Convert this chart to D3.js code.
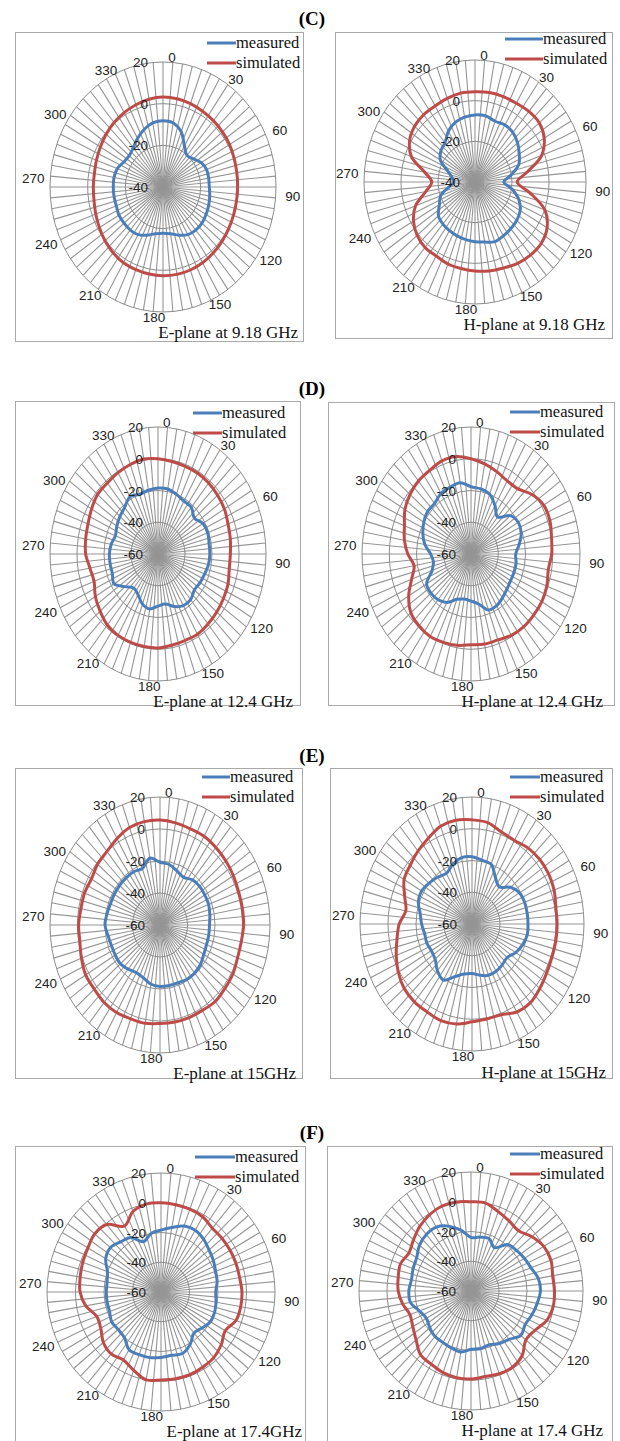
<!DOCTYPE html>
<html>
<head>
<meta charset="utf-8">
<script src="https://cdn.jsdelivr.net/npm/d3@7"></script>
<style>
  body { margin: 0; background: #fff; }
  svg text { font-family: "Liberation Sans", Arial, sans-serif; }
  .serif { font-family: "Liberation Serif", "Times New Roman", serif; }
</style>
</head>
<body>
<svg id="chart" width="620" height="1441"></svg>
<script>
// sample angles (deg, clockwise from top)
var angles = [0,10,20,30,40,50,60,70,80,90,100,110,120,130,140,150,160,170,
              180,190,200,210,220,230,240,250,260,270,280,290,300,310,320,330,340,350];
var angleLabels = [0,30,60,90,120,150,180,210,240,270,300,330];
var ticksC = [20, 0, -20, -40];
var ticksDEF = [20, 0, -20, -40, -60];

var series = ["measured", "simulated"];
var colors = ["#4a7ebb", "#be4b48"];

// (C) 9.18 GHz
var measE918 = [-8.2,-8.8,-11.8,-17.2,-20.2,-19,-16.6,-15.4,-15.4,-15.4,-14.8,-14.2,-13.6,-13,-13,-13.6,-15.4,-17.2,
                -17.8,-17.2,-15.4,-13.6,-13,-13,-13,-13.6,-13.6,-13.6,-13.6,-14.2,-16,-16.6,-15.4,-13,-10.6,-8.8];
var simE918  = [3.2,3,2.6,2,1.6,1.2,0.8,0.2,-0.2,-0.4,-0.4,-0.2,0.2,0.8,1.4,2,2.4,2.6,
                2.6,2.4,2.2,2,1.2,0.2,-1,-2,-2.8,-3,-3,-2.4,-1.6,-0.6,0.4,1.2,2,2.8];
var measH918 = [-7,-7,-8.2,-7.6,-8.2,-10,-12.4,-14.8,-20.2,-24.4,-19.6,-14.8,-11.8,-10.6,-10,-9.4,-8.8,-10,
                -10.6,-11.2,-11.8,-12.4,-13,-14.2,-17.8,-20.2,-25.6,-28.6,-27.4,-24.4,-18.4,-16,-14.8,-11.2,-8.8,-7.6];
var simH918  = [4.4,4.7,4.7,4.7,5.3,5.3,3.2,-1.6,-11.2,-17.2,-10,0.2,5,6.8,6.8,6.2,5,4.4,
                3.8,3.2,2.9,2,2,0.8,-1.6,-5.8,-13,-16.6,-12.4,-3.4,0.8,2.6,3.2,3.2,3.8,4.4];
// (D) 12.4 GHz
var measE124 = [-18.4,-18.4,-20,-21.6,-21.6,-24.8,-21.6,-20.8,-21.6,-21.6,-22,-23.2,-24,-24.8,-22.4,-22.4,-24.8,-28,
                -27.2,-24.8,-26.4,-30.4,-32,-28,-22.4,-24,-24,-24,-24.8,-26.4,-24.8,-23.2,-21.6,-18.4,-20,-19.2];
var simE124  = [0,-0.8,-1.2,-1.2,-1.6,-2.4,-3.2,-4.8,-5.6,-6.4,-6.4,-4.8,-4,-3.2,-2.4,-1.6,-2,-1.6,
                -0.8,-0.8,-0.8,-0.8,-1.6,-4,-6.4,-9.6,-8.8,-6.4,-5.6,-4.8,-3.2,-1.6,-1.6,-0.8,0,0.8];
var measH124 = [-17.6,-18.4,-20,-24.8,-29.6,-22.4,-20,-20.8,-24,-27.2,-26.4,-26.4,-26.4,-25.6,-24,-22.4,-22.4,-28,
                -30.4,-31.2,-29.6,-24.8,-22.4,-21.6,-22.4,-29.6,-32,-30.4,-25.6,-22.4,-20,-18.4,-18.4,-16,-15.2,-14.4];
var simH124  = [0,-2.4,-4.8,-6.8,-6.4,-1.6,1.6,1.6,0,-0.8,-2.4,-0.8,0,0,0,-0.8,-2.4,-2.4,
                -2.8,-1.6,-0.8,0,-0.8,-2.4,-7.2,-13.6,-17.6,-13.6,-10.4,-8,-4,-1.6,0,0.8,2.4,2.4];
// (E) 15 GHz
var measE15 = [-20.8,-21.6,-24,-25.6,-23.2,-22.4,-22.4,-22.4,-23.2,-24,-24,-24,-23.2,-21.6,-20.8,-20.8,-21.6,-21.6,
               -21.6,-22.4,-24.8,-25.6,-24,-22.4,-22.4,-22.4,-21.6,-20,-20.8,-21.6,-21.6,-21.6,-21.6,-21.6,-22.4,-17.6];
var simE15  = [5.6,4.8,4,4,3.2,2.4,1.6,0.8,0.8,0.8,0,0,1.2,1.6,2.4,1.6,1.6,1.6,
               1.6,2.4,2.4,3.2,3.2,2.4,2.4,0.8,-0.8,-0.8,-1.6,-1.6,-2.4,-0.8,0,2.4,4.8,5.6];
var measH15 = [-17.6,-19.2,-20,-26.4,-29.6,-24,-20.8,-20,-20,-20,-20,-21.6,-24,-27.2,-26.4,-25.6,-25.6,-27.2,
               -28.8,-28,-24.8,-19.2,-21.6,-25.6,-26.4,-25.6,-25.6,-24,-22.4,-19.2,-18.4,-20,-21.6,-23.2,-20,-17.6];
var simH15  = [5.6,4.8,1.6,0.8,2.4,3.2,3.2,2.4,0.8,0.8,0.8,0.8,1.6,3.2,4.8,4,0.8,0.8,
               1.6,4,4.8,4,4,3.2,0.8,-2.4,-5.6,-8,-12,-8.8,-4,-2.4,0,2.4,5.6,6.4];
// (F) 17.4 GHz
var measE174 = [-18.4,-16,-12.8,-12,-13.6,-16,-17.6,-19.2,-20,-21.6,-20.8,-20,-20,-22.4,-24,-19.2,-16,-16.8,
                -16,-15.2,-15.2,-15.2,-20,-20.8,-20,-21.6,-21.6,-21.6,-21.6,-20,-15.2,-13.6,-16,-17.6,-24,-20];
var simE174  = [0,-0.4,-0.8,-1.6,-4,-4,-4,-4,-4,-3.2,-3.2,-4,-8,-4.8,-2.4,-1.6,-0.8,-0.8,
                -0.8,0,-4,-7.2,-5.6,-7.2,-11.2,-12,-6.4,-3.2,-2.4,-1.6,-0.8,0.8,-0.8,-8.8,-2.4,0];
var measH174 = [-24,-23.2,-22.4,-26.4,-19.2,-17.6,-16,-14.4,-11.2,-10.4,-12,-13.6,-15.2,-13.6,-17.6,-19.2,-21.6,-20.8,
                -20.8,-18.4,-19.2,-20,-20,-21.6,-23.2,-20.8,-16,-15.6,-16.8,-16,-15.2,-12,-10.4,-10.4,-13.6,-18.4];
var simH174  = [0,0,-3.2,-5.6,-7.2,-3.2,0,0.8,-0.8,-0.4,-0.4,-2.4,-7.2,-8.8,-3.2,-0.8,-0.8,-1.6,
                -0.8,-0.8,-1.6,-3.2,-4,-8.8,-12,-13.6,-10.4,-8,-7.2,-6.4,-8.8,-6.4,-3.2,-0.8,0.8,0.8];

var titles = ["(C)", "(D)", "(E)", "(F)"];
var titleY = [25, 395, 762, 1139];

var panels = [
  {box:[15,32,303,341], cx:163, cy:187, rx:113, ry:125, ticks:ticksC, data:[measE918, simE918],
   caption:"E-plane at 9.18 GHz", capX:298, capY:338, legX:236, legLen:29, legY:43},
  {box:[335,32,612,338], cx:475, cy:182, rx:111, ry:122, ticks:ticksC, data:[measH918, simH918],
   caption:"H-plane at 9.18 GHz", capX:605, capY:330, legX:543, legLen:38, legY:39},
  {box:[15,401,300,705], cx:158, cy:554, rx:108, ry:127, ticks:ticksDEF, data:[measE124, simE124],
   caption:"E-plane at 12.4 GHz", capX:293, capY:707, legX:222, legLen:29, legY:413},
  {box:[328,402,614,705], cx:471, cy:554, rx:109, ry:127, ticks:ticksDEF, data:[measH124, simH124],
   caption:"H-plane at 12.4 GHz", capX:603, capY:707, legX:540, legLen:30, legY:412},
  {box:[15,768,302,1078], cx:160, cy:925, rx:110, ry:128, ticks:ticksDEF, data:[measE15, simE15],
   caption:"E-plane at 15GHz", capX:296, capY:1079, legX:230, legLen:28, legY:777},
  {box:[330,768,612,1078], cx:472, cy:924, rx:112, ry:127, ticks:ticksDEF, data:[measH15, simH15],
   caption:"H-plane at 15GHz", capX:606, capY:1078, legX:540, legLen:30, legY:777},
  {box:[15,1146,305,1446], cx:161, cy:1292, rx:114, ry:119, ticks:ticksDEF, data:[measE174, simE174],
   caption:"E-plane at 17.4GHz", capX:302, capY:1437, legX:235, legLen:40, legY:1157},
  {box:[327,1146,612,1446], cx:471, cy:1291, rx:112, ry:119, ticks:ticksDEF, data:[measH174, simH174],
   caption:"H-plane at 17.4 GHz", capX:603, capY:1436, legX:540, legLen:30, legY:1154}
];

var svg = d3.select("#chart");

svg.selectAll(".title")
  .data(titles)
  .join("text")
  .attr("class", "title serif")
  .attr("x", 312)
  .attr("y", function(d, i) { return titleY[i]; })
  .attr("text-anchor", "middle")
  .style("font-size", "19px")
  .style("font-weight", "bold")
  .text(function(d) { return d; });

function rad(a) { return a * Math.PI / 180; }

panels.forEach(function(p) {
  var g = svg.append("g");
  var r = d3.scaleLinear()
      .domain([d3.min(p.ticks), d3.max(p.ticks)])
      .range([0, 1]);

  function px(a, t) { return p.cx + t * p.rx * Math.sin(rad(a)); }
  function py(a, t) { return p.cy - t * p.ry * Math.cos(rad(a)); }

  g.append("rect")
    .attr("x", p.box[0] + 0.5)
    .attr("y", p.box[1] + 0.5)
    .attr("width", p.box[2] - p.box[0])
    .attr("height", p.box[3] - p.box[1])
    .attr("fill", "#fff")
    .attr("stroke", "#a9a9a9");

  // spokes, one every 5 degrees
  g.selectAll(".spoke")
    .data(d3.range(0, 360, 5))
    .join("line")
    .attr("x1", p.cx).attr("y1", p.cy)
    .attr("x2", function(a) { return px(a, 1); })
    .attr("y2", function(a) { return py(a, 1); })
    .attr("stroke", "#959595")
    .attr("stroke-width", 1.1);

  // rings
  g.selectAll(".ring")
    .data(p.ticks.filter(function(v) { return r(v) > 0; }))
    .join("ellipse")
    .attr("cx", p.cx).attr("cy", p.cy)
    .attr("rx", function(v) { return r(v) * p.rx; })
    .attr("ry", function(v) { return r(v) * p.ry; })
    .attr("fill", "none")
    .attr("stroke", "#8c8c8c")
    .attr("stroke-width", 1);

  // series
  var line = d3.line()
      .x(function(d) { return px(d.a, r(d.v)); })
      .y(function(d) { return py(d.a, r(d.v)); })
      .curve(d3.curveCatmullRomClosed.alpha(0.5));

  p.data.forEach(function(vals, i) {
    g.append("path")
      .datum(angles.map(function(a, j) { return {a: a, v: vals[j]}; }))
      .attr("d", line)
      .attr("fill", "none")
      .attr("stroke", colors[i])
      .attr("stroke-width", 3)
      .attr("stroke-linejoin", "round");
  });

  // value labels
  g.selectAll(".rlab")
    .data(p.ticks)
    .join("text")
    .attr("x", p.cx - 15)
    .attr("y", function(v) { return p.cy - r(v) * p.ry + 5; })
    .attr("text-anchor", "end")
    .style("font-size", "13.5px")
    .attr("fill", "#222")
    .text(function(v) { return v; });

  // angle labels
  g.selectAll(".alab")
    .data(angleLabels)
    .join("text")
    .attr("x", function(a) { return p.cx + (p.rx + 17) * Math.sin(rad(a + 4)); })
    .attr("y", function(a) { return p.cy - (p.ry + 5) * Math.cos(rad(a + 4)) + 5; })
    .attr("text-anchor", "middle")
    .style("font-size", "13.5px")
    .attr("fill", "#222")
    .text(function(a) { return a; });

  // legend
  series.forEach(function(s, i) {
    var y = p.legY + i * 20;
    g.append("line")
      .attr("x1", p.legX - p.legLen).attr("x2", p.legX)
      .attr("y1", y).attr("y2", y)
      .attr("stroke", colors[i])
      .attr("stroke-width", 3);
    g.append("text")
      .attr("class", "serif")
      .attr("x", p.legX)
      .attr("y", y + 5)
      .style("font-size", "16.5px")
      .attr("fill", "#111")
      .text(s);
  });

  g.append("text")
    .attr("class", "serif")
    .attr("x", p.capX)
    .attr("y", p.capY)
    .attr("text-anchor", "end")
    .style("font-size", "17px")
    .attr("fill", "#111")
    .text(p.caption);
});
</script>
</body>
</html>
